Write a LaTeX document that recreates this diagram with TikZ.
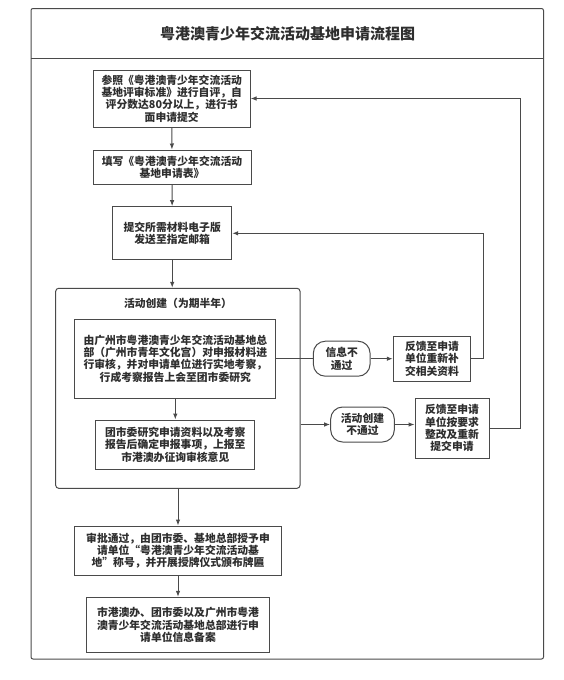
\documentclass[tikz,border=0pt]{standalone}
\usepackage{fontspec}
\setmainfont{Noto Sans CJK SC}
\usetikzlibrary{arrows.meta}
\definecolor{ln}{HTML}{4A4A4A}
\definecolor{tx}{HTML}{2E2E2E}
\begin{document}
\begin{tikzpicture}[x=1pt,y=-1pt,
  every node/.style={text=tx},
  box/.style={draw=ln,line width=1pt,align=center,inner sep=0pt,
    font=\fontsize{10.8}{12.3}\selectfont\bfseries},
  pill/.style={box,rounded corners=12pt},
  arr/.style={draw=ln,line width=1pt,-{Latex[length=6pt,width=4.5pt]}},
  con/.style={draw=ln,line width=1pt}]
\useasboundingbox (0,0) rectangle (564,680);
\fill[white] (0,0) rectangle (564,680);
% outer frame
\node[draw=ln,line width=1pt,rounded corners=2pt,minimum width=512.5pt,minimum height=650.5pt,inner sep=0pt] (frame) at (287.25,333.75) {};
\coordinate (tl) at (31,58);
\draw[con] (tl) -- (tl -| frame.east);
\node[font=\fontsize{15}{17}\selectfont\bfseries] (title) at (287.5,34) {粤港澳青少年交流活动基地申请流程图};
% boxes
\node[box,minimum width=156.7pt,minimum height=57pt] (b1) at (171.7,98.5)
  {参照《粤港澳青少年交流活动\\基地评审标准》进行自评，自\\评分数达80分以上，进行书\\面申请提交};
\node[box,minimum width=158pt,minimum height=34pt] (b2) at (172,167)
  {填写《粤港澳青少年交流活动\\基地申请表》};
\node[box,minimum width=119pt,minimum height=53.3pt] (b3) at (172.2,233.3)
  {提交所需材料电子版\\发送至指定邮箱};
\node[draw=ln,line width=1pt,rounded corners=3pt,minimum width=244.3pt,minimum height=200pt,inner sep=0pt] (grp) at (177.85,388.3) {};
\node[font=\fontsize{10.8}{12.3}\selectfont\bfseries] (gt) at (178,303) {活动创建（为期半年）};
\node[box,minimum width=200.7pt,minimum height=79.3pt] (b4) at (175.3,358.7)
  {由广州市粤港澳青少年交流活动基地总\\部（广州市青年文化宫）对申报材料进\\行审核，并对申请单位进行实地考察，\\行成考察报告上会至团市委研究};
\node[box,minimum width=159.3pt,minimum height=49.3pt] (b5) at (175.3,444.7)
  {团市委研究申请资料以及考察\\报告后确定申报事项，上报至\\市港澳办征询审核意见};
\node[pill,minimum width=56.7pt,minimum height=35pt] (e1) at (341.7,358.7)
  {信息不\\通过};
\node[box,minimum width=77.4pt,minimum height=45.3pt] (b6) at (432,358.7)
  {反馈至申请\\单位重新补\\交相关资料};
\node[pill,minimum width=63.6pt,minimum height=35pt] (e2) at (362.5,424.5)
  {活动创建\\不通过};
\node[box,minimum width=74pt,minimum height=60pt] (b7) at (452,428.3)
  {反馈至申请\\单位按要求\\整改及重新\\提交申请};
\node[box,minimum width=207.4pt,minimum height=49pt] (b8) at (178,550.5)
  {审批通过，由团市委、基地总部授予申\\请单位“粤港澳青少年交流活动基\\地”称号，并开展授牌仪式颁布牌匾};
\node[box,minimum width=182.6pt,minimum height=55.4pt] (b9) at (178,625)
  {市港澳办、团市委以及广州市粤港\\澳青少年交流活动基地总部进行申\\请单位信息备案};
% corner coordinates of loops
\coordinate (r1) at (483.3,358.7);
\coordinate (r2) at (520.7,428.3);
% connectors
\draw[arr] (b1) -- (b2);
\draw[arr] (b2) -- (b3);
\draw[arr] (b3.south) -- (b3.south |- grp.north);
\draw[arr] (b4) -- (b5);
\draw[arr] (grp.south -| b8.north) -- (b8.north);
\draw[arr] (b8) -- (b9);
\draw[con] (b4.east) -- (e1.west);
\draw[arr] (e1) -- (b6);
\draw[arr] (b6.east) -- (r1) -- (r1 |- b3.east) -- (b3.east);
\draw[arr] (grp.east |- e2.west) -- (e2.west);
\draw[arr] (e2.east) -- (e2.east -| b7.west);
\draw[arr] (b7.east) -- (r2) -- (r2 |- b1.east) -- (b1.east);
\end{tikzpicture}
\end{document}
